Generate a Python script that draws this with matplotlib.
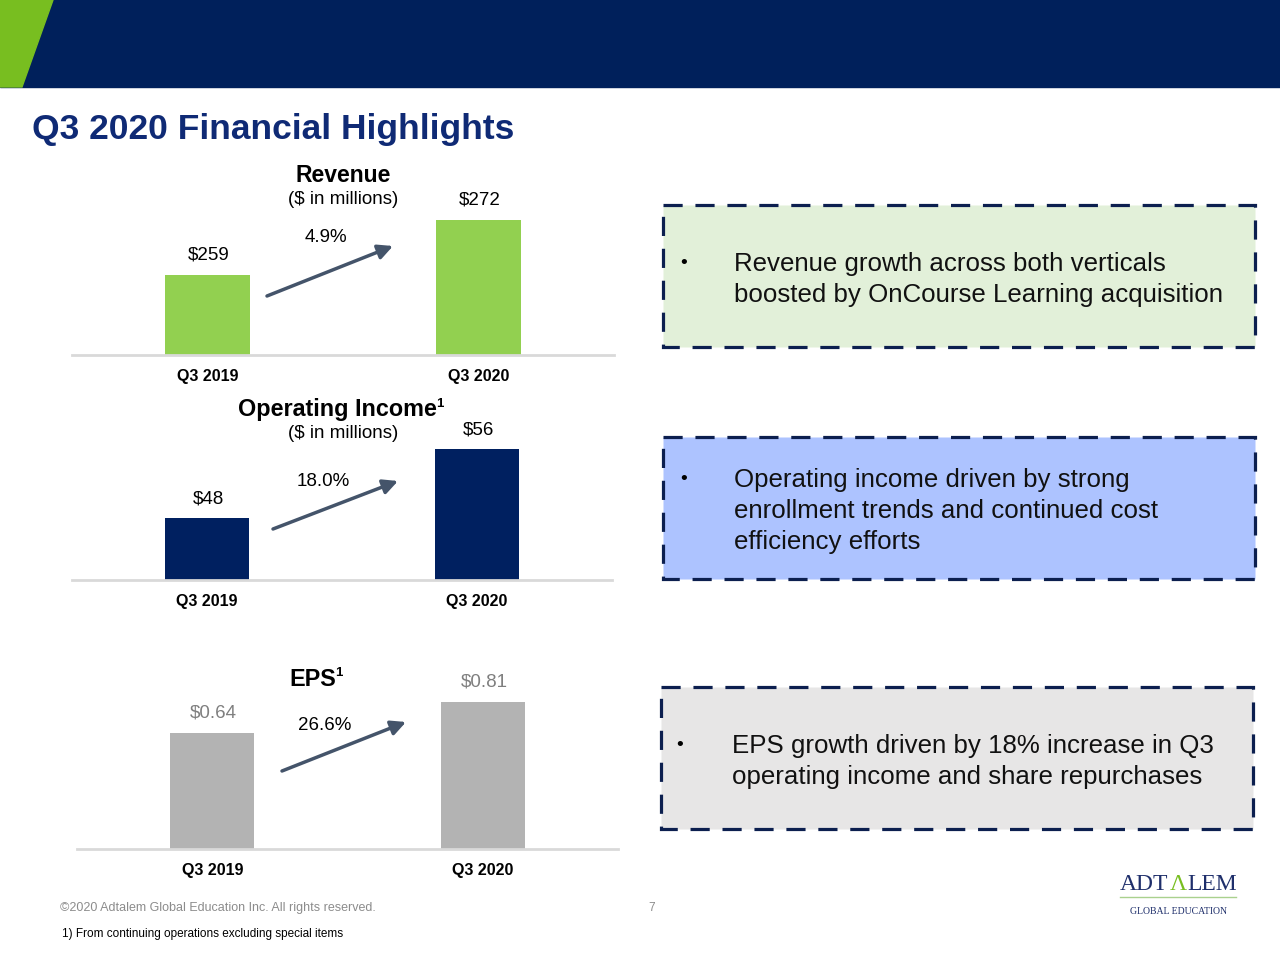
import matplotlib
matplotlib.use('Agg')
import matplotlib.pyplot as plt
from matplotlib.patches import Rectangle, Polygon

plt.rcParams['font.family'] = ['Liberation Sans', 'DejaVu Sans']

# Data
periods = ['Q3 2019', 'Q3 2020']
revenue = [259, 272]
op_income = [48, 56]
eps = [0.64, 0.81]
growth = ['4.9%', '18.0%', '26.6%']

bullets = [
    ['Revenue growth across both verticals',
     'boosted by OnCourse Learning acquisition'],
    ['Operating income driven by strong',
     'enrollment trends and continued cost',
     'efficiency efforts'],
    ['EPS growth driven by 18% increase in Q3',
     'operating income and share repurchases'],
]

W, H = 1280, 960
NAVY = '#002060'


def fx(px):
    return px / W


def fy(py):
    return 1 - py / H


def ty(py):
    # text centres sit a touch high with va='center'
    return 1 - (py + 2) / H


def axes_px(left, top, right, bottom):
    return [fx(left), fy(bottom), (right - left) / W, (bottom - top) / H]


fig = plt.figure(figsize=(12.8, 9.6), dpi=100)

# header banner
bg = fig.add_axes([0, 0, 1, 1], zorder=-5)
bg.set_xlim(0, W)
bg.set_ylim(H, 0)
bg.axis('off')
bg.add_patch(Rectangle((0, 0), W, 87, color='#00205B'))
bg.add_patch(Polygon([(0, 0), (53, 0), (22, 87), (0, 87)], color='#78BE20'))

fig.text(fx(32), ty(128), 'Q3 2020 Financial Highlights', fontsize=25.5,
         fontweight='bold', color='#0F2A75', ha='left', va='center')


def bar_panel(rect, values, ylim, color, labels, label_color):
    ax = fig.add_axes(rect)
    ax.set_facecolor('none')
    bars = ax.bar(periods, values, width=0.31, color=color)
    ax.set_xlim(-0.5, 1.5)
    ax.set_ylim(*ylim)
    for s in ['top', 'left', 'right']:
        ax.spines[s].set_visible(False)
    ax.spines['bottom'].set_color('#D9D9D9')
    ax.spines['bottom'].set_linewidth(2)
    ax.set_yticks([])
    ax.tick_params(axis='x', length=0, pad=10)
    for t in ax.get_xticklabels():
        t.set_fontweight('bold')
        t.set_fontsize(11.5)
    for b, lab in zip(bars, labels):
        ax.annotate(lab, (b.get_x() + b.get_width() / 2, b.get_height()),
                    xytext=(1, 14), textcoords='offset points',
                    ha='center', va='center', fontsize=13.5, color=label_color)
    return ax


bar_panel(axes_px(72, 205, 614, 355), revenue, (240, 275.5), '#92D050',
          [f'${v}' for v in revenue], 'black')
bar_panel(axes_px(72, 440, 612, 580), op_income, (40.8, 57.1), NAVY,
          [f'${v}' for v in op_income], 'black')
bar_panel(axes_px(77, 690, 618, 849), eps, (0, 0.874), '#B3B3B3',
          [f'${v:.2f}' for v in eps], '#7F7F7F')

# panel headers
fig.text(fx(343), ty(173), 'Revenue', fontsize=16.5, fontweight='bold',
         ha='center', va='center')
fig.text(fx(343), ty(197), '($ in millions)', fontsize=13.5, ha='center', va='center')
fig.text(fx(238), ty(408), 'Operating Income', fontsize=16.8, fontweight='bold',
         ha='left', va='center')
fig.text(fx(436), ty(402), '1', fontsize=9.5, fontweight='bold', ha='left', va='center')
fig.text(fx(343), ty(432), '($ in millions)', fontsize=13.5, ha='center', va='center')
fig.text(fx(289), ty(678), 'EPS', fontsize=16.8, fontweight='bold', ha='left', va='center')
fig.text(fx(335), ty(671), '1', fontsize=9.5, fontweight='bold', ha='left', va='center')

# growth arrows
arrows = [((267, 296), (393, 246), (326, 235)),
          ((273, 529), (398, 481), (323, 480)),
          ((282, 771), (406, 722), (325, 723))]
for (start, end, lab_pos), g in zip(arrows, growth):
    bg.annotate('', xy=end, xytext=start,
                arrowprops=dict(arrowstyle='-|>', color='#44546A', lw=2.5,
                                mutation_scale=22, shrinkA=0, shrinkB=0))
    fig.text(fx(lab_pos[0]), ty(lab_pos[1]), g, fontsize=13.5, ha='center', va='center')

# commentary boxes
boxes = [((663, 205, 1255, 347), '#E2F0D9', 684, 734, [262, 293]),
         ((663, 437, 1255, 579), '#ADC3FF', 684, 734, [478, 509, 540]),
         ((661, 687, 1253, 829), '#E7E6E6', 680, 732, [744, 775])]
for ((l, t, r, b), fill, bx, tx, ys), lines in zip(boxes, bullets):
    bg.add_patch(Rectangle((l, t), r - l, b - t, facecolor=fill, edgecolor='#0C1F4F',
                           linewidth=2.3, linestyle=(0, (6, 4))))
    fig.text(fx(bx), ty(ys[0]), '\u2022', fontsize=14, ha='center', va='center')
    for y, line in zip(ys, lines):
        fig.text(fx(tx), ty(y), line, fontsize=18.6, ha='left', va='center',
                 color='#111111')

# footer
fig.text(fx(60), ty(906), '\u00a92020 Adtalem Global Education Inc. All rights reserved.',
         fontsize=9, color='#8C8C8C', ha='left', va='center')
fig.text(fx(652), ty(906), '7', fontsize=8.5, color='#8C8C8C', ha='center', va='center')
fig.text(fx(62), ty(932), '1) From continuing operations excluding special items',
         fontsize=8.5, ha='left', va='center')

# logo
fig.text(fx(1168), ty(882), 'ADT', fontsize=17, family='Liberation Serif',
         color='#1F2F6B', ha='right', va='center')
fig.text(fx(1178), ty(882), '\u039b', fontsize=17, family='Liberation Serif',
         color='#78BE20', ha='center', va='center')
fig.text(fx(1187), ty(882), 'LEM', fontsize=17, family='Liberation Serif',
         color='#1F2F6B', ha='left', va='center')
bg.plot([1120, 1236], [897, 897], color='#A9D18E', lw=1)
fig.text(fx(1178), ty(909), 'GLOBAL EDUCATION', fontsize=7, family='Liberation Serif',
         color='#1F2F6B', ha='center', va='center')

fig.savefig('out.png', dpi=100)
